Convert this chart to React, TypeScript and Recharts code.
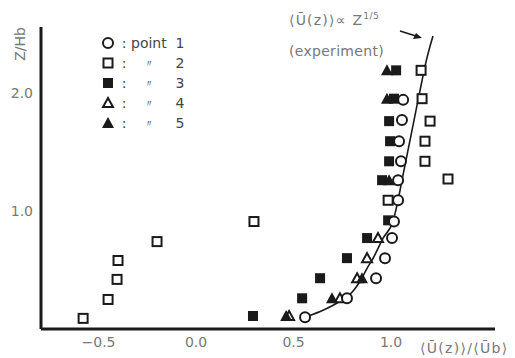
import React from "react";
import { ScatterChart, Scatter, XAxis, YAxis } from "recharts";

// values: <U(z)>/<Ub> vs Z/Hb
const point1U = [1.062, 1.056, 1.041, 1.051, 1.036, 1.036, 1.015, 1.005, 0.969, 0.923, 0.774, 0.559];
const point1Z = [1.94, 1.77, 1.59, 1.42, 1.26, 1.09, 0.91, 0.77, 0.6, 0.43, 0.26, 0.1];

const point2U = [1.154, 1.159, 1.2, 1.174, 1.174, 1.292, 0.985, 0.297, -0.2, -0.4, -0.405, -0.451, -0.579];
const point2Z = [2.19, 1.95, 1.76, 1.59, 1.42, 1.27, 1.09, 0.91, 0.74, 0.58, 0.42, 0.25, 0.09];

const point3U = [1.026, 1.015, 0.99, 0.995, 0.99, 0.954, 0.985, 0.877, 0.774, 0.636, 0.544, 0.292];
const point3Z = [2.19, 1.95, 1.76, 1.59, 1.42, 1.26, 0.92, 0.77, 0.6, 0.43, 0.26, 0.11];

const point4U = [0.933, 0.877, 0.826, 0.738, 0.477];
const point4Z = [0.77, 0.6, 0.43, 0.26, 0.11];

const point5U = [0.979, 0.979, 0.99, 0.851, 0.697, 0.462];
const point5Z = [2.19, 1.95, 1.26, 0.43, 0.26, 0.11];

// experiment curve <U(z)> ~ Z^(1/5)
const curveU = [0.559, 0.662, 0.738, 0.8, 0.841, 0.877, 0.908, 0.959, 1.01, 1.036, 1.056, 1.087, 1.118, 1.149, 1.179, 1.215];
const curveZ = [0.099, 0.167, 0.235, 0.311, 0.404, 0.514, 0.599, 0.769, 0.913, 1.091, 1.26, 1.514, 1.769, 2.023, 2.26, 2.48];

const xTicks = [-0.5, 0, 0.5, 1.0];
const yTicks = [1.0, 2.0];
const legendNames = ["1", "2", "3", "4", "5"];

const zip = (u: number[], z: number[]) => u.map((v, i) => ({ u: v, z: z[i] }));

const INK = "#1a1a1a";
const GREY = "#777";
const FONT = "DejaVu Sans";

const OpenCircle = (p: any) => (
  <circle cx={p.cx} cy={p.cy} r={5} fill="#fff" stroke={INK} strokeWidth={2} />
);
const OpenSquare = (p: any) => (
  <rect x={p.cx - 4.5} y={p.cy - 4.5} width={9} height={9} fill="#fff" stroke={INK} strokeWidth={2} />
);
const FilledSquare = (p: any) => (
  <rect x={p.cx - 5} y={p.cy - 5} width={10} height={10} fill={INK} />
);
const OpenTriangle = (p: any) => (
  <polygon
    points={`${p.cx},${p.cy - 5} ${p.cx + 5},${p.cy + 4} ${p.cx - 5},${p.cy + 4}`}
    fill="#fff"
    stroke={INK}
    strokeWidth={2}
  />
);
const FilledTriangle = (p: any) => (
  <polygon
    points={`${p.cx},${p.cy - 6} ${p.cx + 6},${p.cy + 5} ${p.cx - 6},${p.cy + 5}`}
    fill={INK}
  />
);
const NoDot = () => <g />;

const legendShapes = [OpenCircle, OpenSquare, FilledSquare, OpenTriangle, FilledTriangle];

const fmt = (v: number) => (v < 0 ? "\u2212" + Math.abs(v).toFixed(1) : v.toFixed(1));

export default function App() {
  return (
    <div style={{ position: "absolute", left: 0, top: 0, width: 515, height: 358, background: "#fff" }}>
      <ScatterChart width={515} height={358} margin={{ top: 27, right: 20, bottom: 0, left: 0 }}>
        <XAxis
          type="number"
          dataKey="u"
          domain={[-0.795, 1.533]}
          ticks={xTicks}
          allowDataOverflow
          height={29}
          tickLine={false}
          axisLine={{ stroke: INK, strokeWidth: 3 }}
          tick={{ fill: GREY, fontSize: 14, fontFamily: FONT }}
          tickFormatter={fmt}
        />
        <YAxis
          type="number"
          dataKey="z"
          domain={[0, 2.557]}
          ticks={yTicks}
          allowDataOverflow
          width={41}
          tickLine={false}
          axisLine={{ stroke: INK, strokeWidth: 3 }}
          tick={{ fill: GREY, fontSize: 14, fontFamily: FONT }}
          tickFormatter={fmt}
        />
        <Scatter
          data={zip(curveU, curveZ)}
          line={{ stroke: INK, strokeWidth: 1.6 }}
          lineJointType="monotoneX"
          shape={NoDot}
          isAnimationActive={false}
        />
        <Scatter data={zip(point2U, point2Z)} shape={OpenSquare} isAnimationActive={false} />
        <Scatter data={zip(point3U, point3Z)} shape={FilledSquare} isAnimationActive={false} />
        <Scatter data={zip(point4U, point4Z)} shape={OpenTriangle} isAnimationActive={false} />
        <Scatter data={zip(point5U, point5Z)} shape={FilledTriangle} isAnimationActive={false} />
        <Scatter data={zip(point1U, point1Z)} shape={OpenCircle} isAnimationActive={false} />
      </ScatterChart>

      <svg
        width={515}
        height={358}
        style={{ position: "absolute", left: 0, top: 0, pointerEvents: "none" }}
        fontFamily={FONT}
      >
        {/* legend */}
        {legendNames.map((n, i) => {
          const y = 43 + i * 20;
          const Shape = legendShapes[i];
          return (
            <g key={n}>
              <Shape cx={108} cy={y} />
              <text x={124} y={y + 5} fontSize={14} fill="#444" textAnchor="middle">:</text>
              {i === 0 ? (
                <text x={131} y={y + 5} fontSize={14} fill="#444">point</text>
              ) : (
                <text x={149} y={y + 4} fontSize={10} fill="#444" textAnchor="middle">{"\u3003"}</text>
              )}
              <text x={180} y={y + 5} fontSize={14} fill="#444" textAnchor="middle">{n}</text>
            </g>
          );
        })}

        {/* curve annotation */}
        <text x={289} y={25} fontSize={14} fill={GREY} letterSpacing={1.2}>
          {"\u27E8\u016A(z)\u27E9\u221D Z"}
          <tspan fontSize={9} dy={-6} letterSpacing={0.5}>1/5</tspan>
        </text>
        <text x={289} y={56} fontSize={14} fill={GREY} letterSpacing={0.3}>(experiment)</text>
        <line x1={400} y1={31} x2={419} y2={37} stroke={INK} strokeWidth={1.5} />
        <polygon points="422,38 413,39 416,33" fill={INK} />

        {/* axis titles */}
        <text x={420} y={353} fontSize={14} fill={GREY} letterSpacing={1.3}>
          {"\u27E8\u016A(z)\u27E9/\u27E8\u016Ab\u27E9"}
        </text>
        <text
          x={0}
          y={0}
          fontSize={14}
          fill={GREY}
          textAnchor="middle"
          transform="translate(25,44) rotate(-90)"
        >
          Z/Hb
        </text>
      </svg>
    </div>
  );
}
